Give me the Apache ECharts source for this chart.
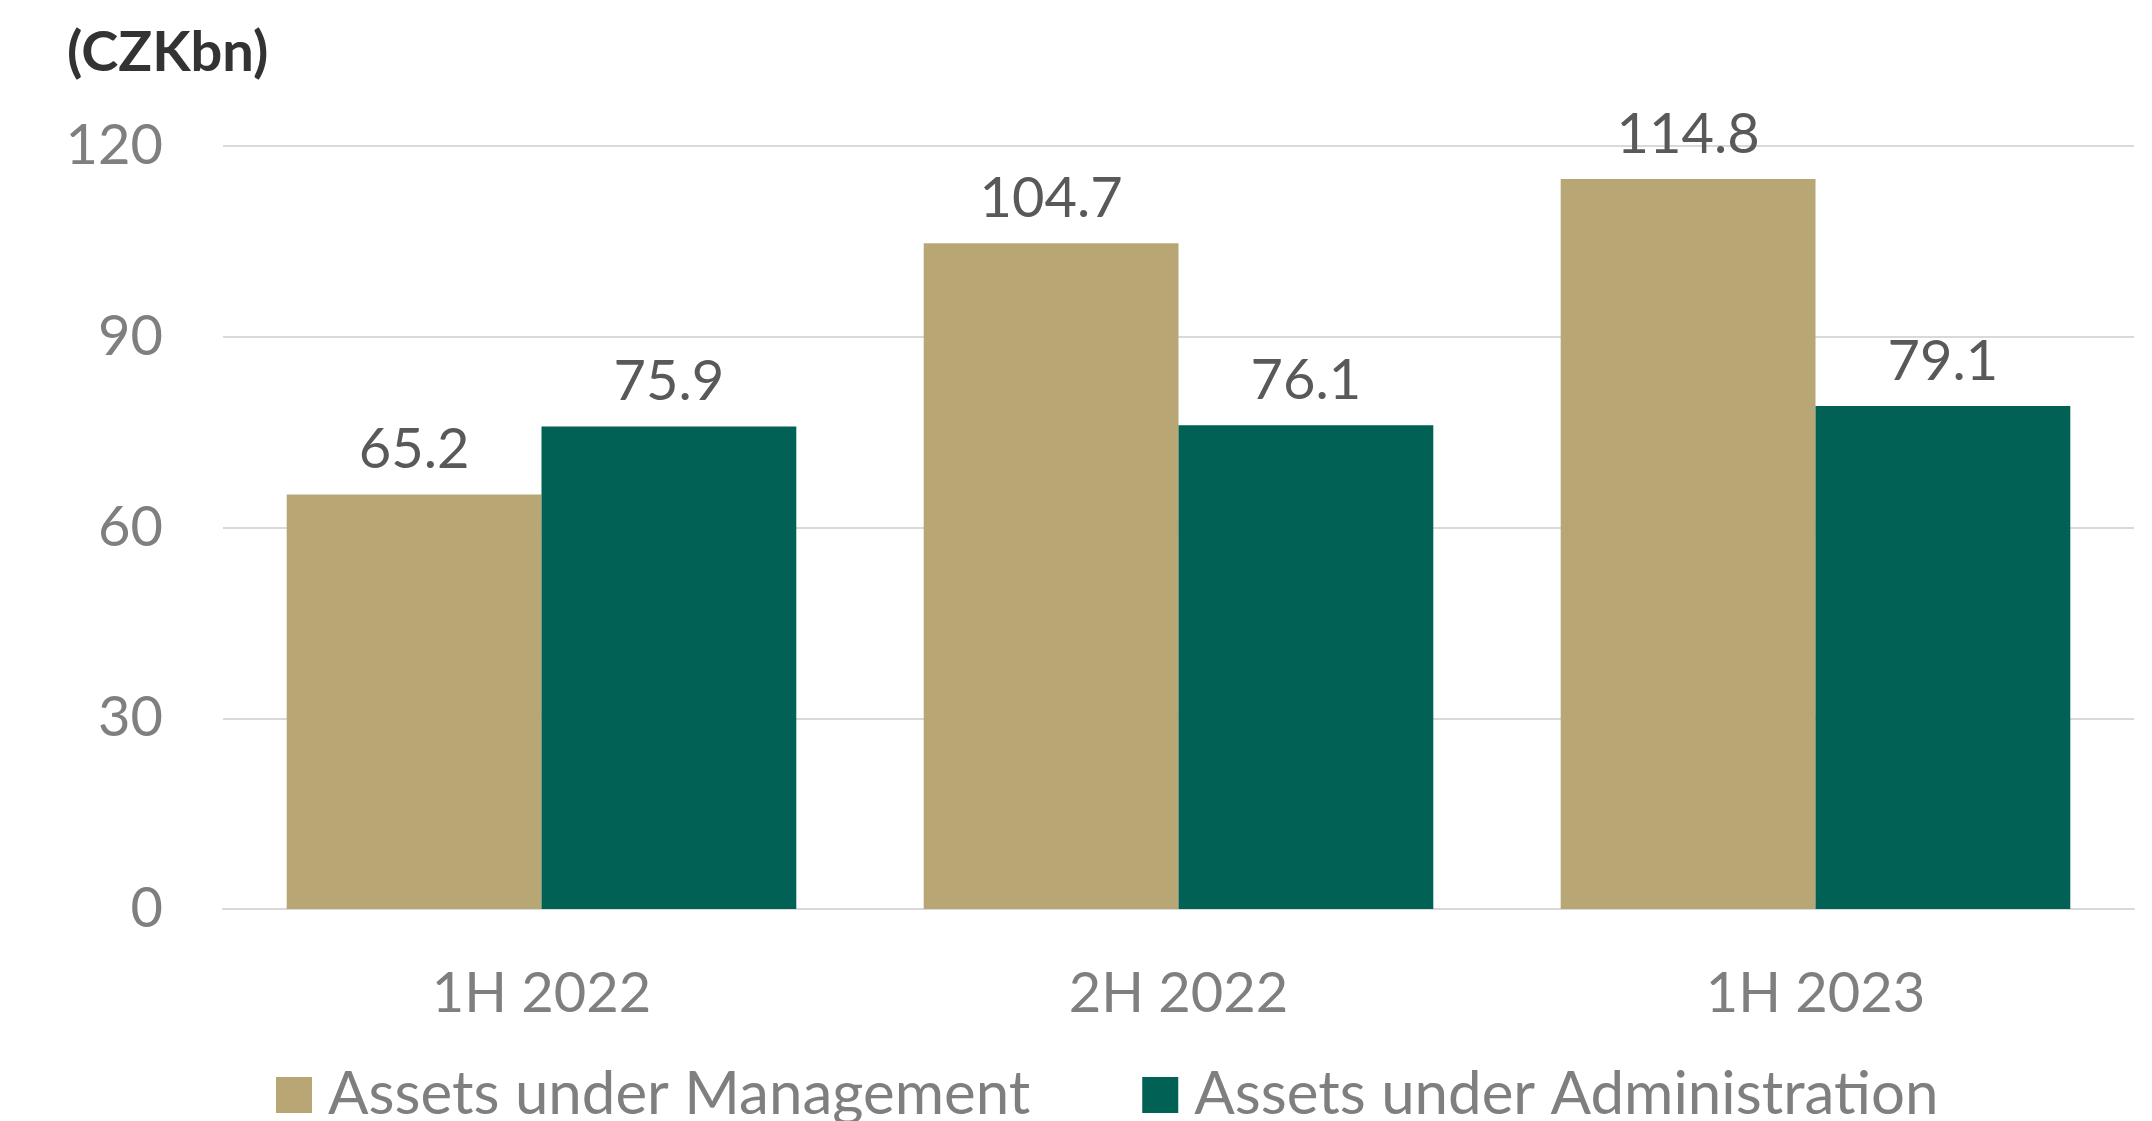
<!DOCTYPE html>
<html>
<head>
<meta charset="utf-8">
<script src="https://cdn.jsdelivr.net/npm/echarts@6/dist/echarts.min.js"></script>
<style>
html,body{margin:0;padding:0;background:#fff;}
#chart{width:2152px;height:1121px;}
</style>
</head>
<body>
<div id="chart"></div>
<script>
const categories = ['1H 2022', '2H 2022', '1H 2023'];
const aumValues = [65.2, 104.7, 114.8];
const auaValues = [75.9, 76.1, 79.1];
const seriesNames = ['Assets under Management', 'Assets under Administration'];
const unitLabel = '(CZKbn)';

const FONT = 'Lato';
const chart = echarts.init(document.getElementById('chart'));
chart.setOption({
  animation: false,
  backgroundColor: '#ffffff',
  title: {
    text: unitLabel,
    left: 62, top: 20,
    textStyle: {fontFamily: FONT, fontWeight: 'bold', fontSize: 56, color: '#333333'}
  },
  legend: {
    data: seriesNames,
    top: 1065,
    left: 276,
    padding: 0,
    itemWidth: 36, itemHeight: 36, itemGap: 112,
    icon: 'rect',
    textStyle: {fontFamily: FONT, fontSize: 60, color: '#7f7f7f', padding: [0,0,0,11]}
  },
  grid: {left: 223, right: 18, top: 146, bottom: 212, containLabel: false},
  xAxis: {
    type: 'category',
    data: categories,
    axisLine: {show: true, lineStyle: {color: '#d9d9d9', width: 2}},
    axisTick: {show: false},
    axisLabel: {fontFamily: FONT, fontSize: 56, color: '#7f7f7f', margin: 57}
  },
  yAxis: {
    type: 'value',
    min: 0, max: 120, interval: 30,
    axisLine: {show: false},
    axisTick: {show: false},
    splitLine: {lineStyle: {color: '#d9d9d9', width: 2}},
    axisLabel: {fontFamily: FONT, fontSize: 56, color: '#7f7f7f', margin: 60}
  },
  series: [
    {
      name: seriesNames[0], type: 'bar', data: aumValues,
      barGap: '0%', barCategoryGap: '20%',
      itemStyle: {color: '#b8a774'},
      label: {show: true, position: 'top', distance: 16, fontFamily: FONT, fontSize: 56, color: '#595959', formatter: p => p.value.toFixed(1)}
    },
    {
      name: seriesNames[1], type: 'bar', data: auaValues,
      barGap: '0%', barCategoryGap: '20%',
      itemStyle: {color: '#006154'},
      label: {show: true, position: 'top', distance: 16, fontFamily: FONT, fontSize: 56, color: '#595959', formatter: p => p.value.toFixed(1)}
    }
  ]
});
</script>
</body>
</html>
